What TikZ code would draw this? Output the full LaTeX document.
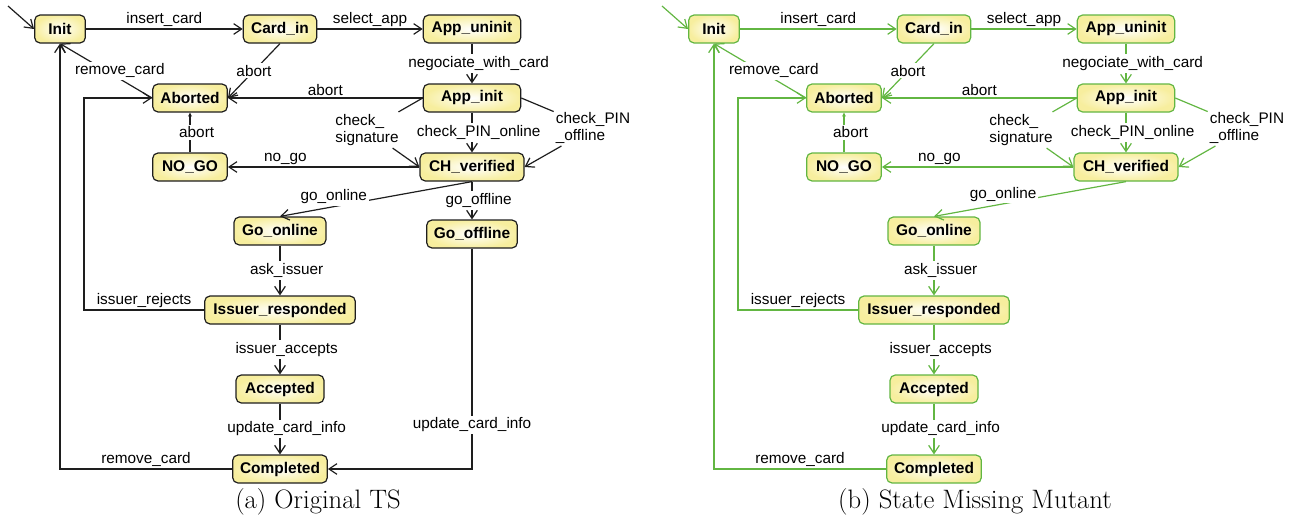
\documentclass[tikz,border=0pt]{standalone}
\usepackage{fontspec}
\newfontfamily\helv{Liberation Sans}
\usetikzlibrary{arrows.meta}
\definecolor{statefill}{RGB}{247,238,158}
\definecolor{linegray}{RGB}{30,30,30}
\definecolor{mutgreen}{RGB}{98,182,66}

\begin{document}
\begin{tikzpicture}
          [x=0.75pt,y=-0.75pt,
          state/.style={shape=rectangle,rounded corners=4pt,draw=linecol,line width=0.9pt,
            inner color=white,outer color=statefill,minimum height=21pt,inner sep=2pt,
            font=\helv\bfseries\fontsize{11.6}{13}\selectfont},
          lbl/.style={font=\helv\fontsize{11.5}{13}\selectfont,text=black,inner sep=1.5pt},
          lblw/.style={lbl,fill=white},
          trans/.style={draw=linecol,line width=0.9pt,-{Straight Barb[length=6pt,width=8pt]}},
          subcap/.style={font=\fontsize{20}{22}\selectfont}]

          \useasboundingbox (0,0) rectangle (1296,521);

          % (a) original transition system
          \begin{scope}[name prefix=a-]
            \colorlet{linecol}{linegray}
            \node (init) [state,minimum width=38pt] at (60,29) {Init};
            \node (cardin) [state,minimum width=55pt] at (280,29) {Card\_in};
            \node (appuninit) [state,minimum width=73pt] at (472,29) {App\_uninit};
            \node (appinit) [state,minimum width=73pt] at (472,98) {App\_init};
            \node (aborted) [state,minimum width=56pt] at (190,98) {Aborted};
            \node (nogo) [state,minimum width=56pt] at (190,167) {NO\_GO};
            \node (chverified) [state,minimum width=78pt] at (472,167) {CH\_verified};
            \node (goonline) [state,minimum width=69pt] at (280,231) {Go\_online};
            \node (gooffline) [state,minimum width=68pt] at (472,234) {Go\_offline};
            \node (issuer) [state,minimum width=113pt] at (280,310) {Issuer\_responded};
            \node (accepted) [state,minimum width=66pt] at (280,389) {Accepted};
            \node (completed) [state,minimum width=71pt] at (280,469) {Completed};
            \node (sig) [lbl,align=left] at (367,130) {check\_\\signature};
            \node (pinoff) [lbl,align=left] at (593,128) {check\_PIN\\\_offline};
            \coordinate (start) at (8,6);
          \draw [trans] (start) -- (init.west);
          \draw [trans] (init) -- node [lbl,above] {insert\_card} (cardin);
          \draw [trans] (cardin) -- node [lbl,above] {select\_app} (appuninit);
          \draw [trans] (appuninit) -- node [lblw,xshift=5pt] {negociate\_with\_card} (appinit);
          \draw [trans] (cardin.south) -- node [lblw] {abort} (aborted.east);
          \draw [trans] (appinit) -- node [lbl,above] {abort} (aborted);
          \draw [trans] (aborted.west) -- node [lblw,pos=0.35,yshift=6pt] {remove\_card} (init.south);
          \draw [trans] (appinit) -- node [lblw,xshift=5pt] {check\_PIN\_online} (chverified);
          \draw [trans] (appinit.west) -- (sig) -- (chverified.west);
          \draw [trans] (appinit.east) -- (pinoff) -- (chverified.east);
          \draw [trans] (chverified) -- node [lbl,above,pos=0.7] {no\_go} (nogo);
          \draw [trans,-{Stealth[length=3pt,width=3pt]}] (nogo) -- node [lblw,xshift=5pt] {abort} (aborted);
          \draw [trans] (chverified.south) -- node [lblw,pos=0.72,anchor=south] {go\_online} (goonline.north);
          \draw [trans] (chverified) -- node [lblw,xshift=5pt] {go\_offline} (gooffline);
          \draw [trans] (goonline) -- node [lblw,xshift=5pt] {ask\_issuer} (issuer);
          \draw [trans] (issuer.west) -- node [lbl,above] {issuer\_rejects} ++(-120,0) |- (aborted.west);
          \draw [trans] (issuer) -- node [lblw,xshift=5pt] {issuer\_accepts} (accepted);
          \draw [trans] (accepted) -- node [lblw,xshift=5pt] {update\_card\_info} (completed);
          \draw [trans] (gooffline) |- node [lblw,pos=0.4] {update\_card\_info} (completed);
          \draw [trans] (completed) -| node [lbl,above,pos=0.25] {remove\_card} (init);
            \node (cap) [subcap] at (318,502) {(a) Original TS};
          \end{scope}

          % (b) mutant without Go_offline
          \begin{scope}[xshift=490.5pt,name prefix=b-]
            \colorlet{linecol}{mutgreen}
            \node (init) [state,minimum width=38pt] at (60,29) {Init};
            \node (cardin) [state,minimum width=55pt] at (280,29) {Card\_in};
            \node (appuninit) [state,minimum width=73pt] at (472,29) {App\_uninit};
            \node (appinit) [state,minimum width=73pt] at (472,98) {App\_init};
            \node (aborted) [state,minimum width=56pt] at (190,98) {Aborted};
            \node (nogo) [state,minimum width=56pt] at (190,167) {NO\_GO};
            \node (chverified) [state,minimum width=78pt] at (472,167) {CH\_verified};
            \node (goonline) [state,minimum width=69pt] at (280,231) {Go\_online};
            \node (issuer) [state,minimum width=113pt] at (280,310) {Issuer\_responded};
            \node (accepted) [state,minimum width=66pt] at (280,389) {Accepted};
            \node (completed) [state,minimum width=71pt] at (280,469) {Completed};
            \node (sig) [lbl,align=left] at (367,130) {check\_\\signature};
            \node (pinoff) [lbl,align=left] at (593,128) {check\_PIN\\\_offline};
            \coordinate (start) at (8,6);
          \draw [trans] (start) -- (init.west);
          \draw [trans] (init) -- node [lbl,above] {insert\_card} (cardin);
          \draw [trans] (cardin) -- node [lbl,above] {select\_app} (appuninit);
          \draw [trans] (appuninit) -- node [lblw,xshift=5pt] {negociate\_with\_card} (appinit);
          \draw [trans] (cardin.south) -- node [lblw] {abort} (aborted.east);
          \draw [trans] (appinit) -- node [lbl,above] {abort} (aborted);
          \draw [trans] (aborted.west) -- node [lblw,pos=0.35,yshift=6pt] {remove\_card} (init.south);
          \draw [trans] (appinit) -- node [lblw,xshift=5pt] {check\_PIN\_online} (chverified);
          \draw [trans] (appinit.west) -- (sig) -- (chverified.west);
          \draw [trans] (appinit.east) -- (pinoff) -- (chverified.east);
          \draw [trans] (chverified) -- node [lbl,above,pos=0.7] {no\_go} (nogo);
          \draw [trans,-{Stealth[length=3pt,width=3pt]}] (nogo) -- node [lblw,xshift=5pt] {abort} (aborted);
          \draw [trans] (chverified.south) -- node [lblw,pos=0.64,anchor=south] {go\_online} (goonline.north);
          \draw [trans] (goonline) -- node [lblw,xshift=5pt] {ask\_issuer} (issuer);
          \draw [trans] (issuer.west) -- node [lbl,above] {issuer\_rejects} ++(-120,0) |- (aborted.west);
          \draw [trans] (issuer) -- node [lblw,xshift=5pt] {issuer\_accepts} (accepted);
          \draw [trans] (accepted) -- node [lblw,xshift=5pt] {update\_card\_info} (completed);
          \draw [trans] (completed) -| node [lbl,above,pos=0.25] {remove\_card} (init);
            \node (cap) [subcap] at (321,502) {(b) State Missing Mutant};
          \end{scope}

        \end{tikzpicture}
\end{document}
